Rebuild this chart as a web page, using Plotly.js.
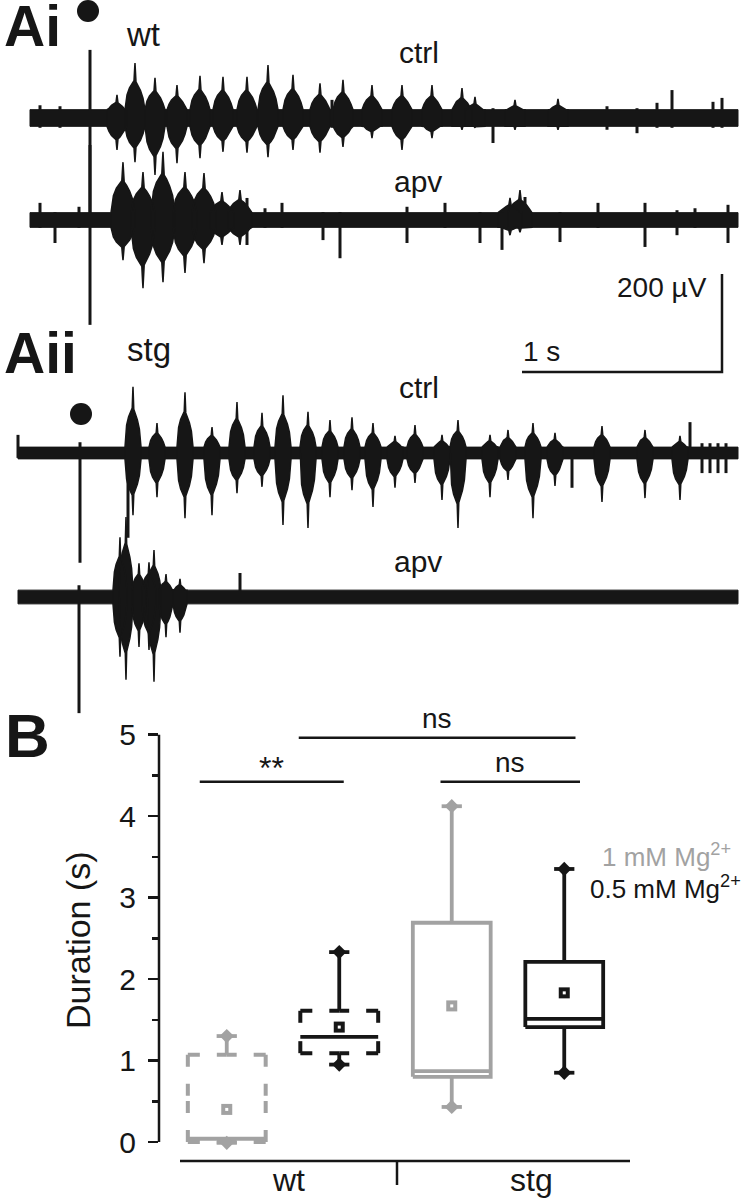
<!DOCTYPE html>
<html><head><meta charset="utf-8">
<script src="https://cdn.plot.ly/plotly-3.0.1.min.js"></script>
<style>html,body{margin:0;padding:0;background:#fff}#chart{width:754px;height:1199px}</style>
</head><body><div id="chart"></div>
<script>
// ================= DATA =================
// Field-potential traces: burst times (s), upward / downward extents (µV)
const wtCtrlBurstT    = [0.435,0.525,0.625,0.735,0.85,0.965,1.085,1.19,1.315,1.45,1.565,1.71,1.86,2.01,2.16,2.225,2.425,2.64];
const wtCtrlBurstUp   = [47,112,82,67,86,84,84,108,88,71,78,67,67,67,61,43,37,39];
const wtCtrlBurstDown = [65,90,116,92,82,69,71,80,65,71,59,41,65,41,24,20,24,24];
const wtCtrlSpikeT    = [0.30,0.05,0.15,1.51,2.315,2.885,3.035,3.135,3.21,3.415,3.46];
const wtCtrlSpikeUp   = [139,26,24,37,20,24,20,31,57,33,41];
const wtCtrlSpikeDown = [208,20,20,20,51,24,31,20,20,20,20];

const wtApvBurstT     = [0.465,0.565,0.665,0.775,0.87,0.96,1.05,2.40,2.45];
const wtApvBurstUp    = [118,98,139,98,96,57,61,45,61];
const wtApvBurstDown  = [82,139,127,108,88,51,51,31,25];
const wtApvSpikeT     = [0.30,0.05,0.125,0.245,1.085,1.175,1.26,1.465,1.55,1.885,2.075,2.25,2.36,2.475,2.65,2.84,3.075,3.235,3.325,3.49];
const wtApvSpikeUp    = [153,35,16,27,45,24,35,16,16,27,35,16,16,47,16,35,35,20,24,31];
const wtApvSpikeDown  = [214,16,47,16,51,16,16,41,78,47,16,47,61,16,45,16,55,31,16,47];

const stgCtrlBurstT    = [0.515,0.635,0.775,0.91,1.035,1.16,1.265,1.39,1.50,1.61,1.715,1.825,1.925,2.06,2.14,2.30,2.39,2.515,2.625,2.86,3.075,3.25];
const stgCtrlBurstUp   = [135,61,124,53,104,82,118,84,67,73,61,35,57,37,67,37,47,61,41,55,47,35];
const stgCtrlBurstDown = [127,90,133,127,82,69,147,153,90,76,110,71,61,96,153,90,55,133,67,100,92,96];
const stgCtrlSpikeT    = [-0.06,0.25,0.49,2.71,3.30,3.36,3.40,3.44,3.48];
const stgCtrlSpikeUp   = [37,22,10,10,63,20,20,20,20];
const stgCtrlSpikeDown = [10,224,173,71,10,41,41,41,41];

const stgApvBurstT     = [0.45,0.48,0.545,0.595,0.62,0.68,0.75];
const stgApvBurstUp    = [122,163,69,71,96,47,37];
const stgApvBurstDown  = [122,169,102,108,173,82,73];
const stgApvSpikeT     = [0.245,1.05];
const stgApvSpikeUp    = [24,49];
const stgApvSpikeDown  = [237,10];

// Box plot (Duration, s)
const genotypes   = ['wt','stg'];
const conditions  = ['1 mM Mg<sup>2+</sup>','0.5 mM Mg<sup>2+</sup>'];
const boxMin      = [-0.01,0.95,0.43,0.85];
const boxQ1       = [0.00,1.09,0.80,1.41];
const boxMedian   = [0.04,1.29,0.87,1.51];
const boxQ3       = [1.07,1.61,2.69,2.21];
const boxMax      = [1.30,2.33,4.12,3.35];
const boxMean     = [0.40,1.41,1.67,1.83];

// Significance brackets
const sigFrom  = [-0.37,0.07,0.70];
const sigTo    = [0.27,1.30,1.32];
const sigLevel = [4.42,4.96,4.42];
const sigLabel = ['**','ns','ns'];

// ================= LAYOUT HELPERS =================
const W = 754, H = 1199;
const FONT = 'Liberation Sans, Arial, sans-serif';
const INK = '#161616', GREY = '#a2a2a2';
const T_PX0 = 30, PX_PER_S = 200, PX_PER_UV = 0.49;
const pxX = v => v / W, pxY = v => 1 - v / H;
const baseUV = p => (H - p) / PX_PER_UV;

const data = [];

function addTrace(basePx, t0, t1, noise, halfW, bT, bU, bD, sT, sU, sD) {
  const B = baseUV(basePx);
  data.push({x:[t0,t1,t1,t0,t0], y:[B+noise,B+noise,B-noise,B-noise,B+noise],
    mode:'lines', fill:'toself', fillcolor:INK, line:{color:INK,width:1},
    xaxis:'x', yaxis:'y', hoverinfo:'skip', showlegend:false});
  // burst glyph: blocky body with a sharp central peak
  const U = [-1,-0.8,-0.55,-0.3,-0.1,-0.03,0,0.03,0.1,0.3,0.55,0.8,1];
  const F = [0,0.42,0.55,0.62,0.68,0.92,1,0.9,0.66,0.6,0.5,0.36,0];
  const xs = [], ys = [];
  bT.forEach((t,i) => {
    for (let k=0;k<U.length;k++){ xs.push(t+U[k]*halfW); ys.push(B+Math.max(noise,F[k]*bU[i])); }
    for (let k=U.length-1;k>=0;k--){ xs.push(t+U[k]*halfW); ys.push(B-Math.max(noise,F[k]*bD[i])); }
    xs.push(t-halfW); ys.push(B+noise);
    xs.push(null); ys.push(null);
  });
  data.push({x:xs, y:ys, mode:'lines', fill:'toself', fillcolor:INK, line:{color:INK,width:1.5},
    xaxis:'x', yaxis:'y', hoverinfo:'skip', showlegend:false, connectgaps:false});
  const sx = [], sy = [];
  sT.forEach((t,i) => { sx.push(t,t,null); sy.push(B+sU[i], B-sD[i], null); });
  data.push({x:sx, y:sy, mode:'lines', line:{color:INK,width:3},
    xaxis:'x', yaxis:'y', hoverinfo:'skip', showlegend:false});
}

addTrace(118, 0.00, 3.54, 17, 0.05, wtCtrlBurstT, wtCtrlBurstUp, wtCtrlBurstDown, wtCtrlSpikeT, wtCtrlSpikeUp, wtCtrlSpikeDown);
addTrace(220, 0.00, 3.54, 15, 0.06, wtApvBurstT, wtApvBurstUp, wtApvBurstDown, wtApvSpikeT, wtApvSpikeUp, wtApvSpikeDown);
addTrace(453, -0.06, 3.54, 12, 0.04, stgCtrlBurstT, stgCtrlBurstUp, stgCtrlBurstDown, stgCtrlSpikeT, stgCtrlSpikeUp, stgCtrlSpikeDown);
addTrace(597, -0.06, 3.54, 14, 0.035, stgApvBurstT, stgApvBurstUp, stgApvBurstDown, stgApvSpikeT, stgApvSpikeUp, stgApvSpikeDown);

// scale bar (1 s, 200 µV) in trace units
const sbT = 3.46, sbV = baseUV(372);
data.push({x:[sbT-1, sbT, sbT], y:[sbV, sbV, sbV+200], mode:'lines', line:{color:INK,width:2.5},
  xaxis:'x', yaxis:'y', hoverinfo:'skip', showlegend:false});

// ---- Box plot ----
const HW = 0.173, CAP = 0.045;
boxQ1.forEach((q1,i) => {
  const g = i < 2 ? 0 : 1;
  const xc = g + (i % 2 === 0 ? -0.25 : 0.25);
  const col = i % 2 === 0 ? GREY : INK;
  const dashed = g === 0;
  const x0 = xc-HW, x1 = xc+HW, q3 = boxQ3[i];
  if (dashed) {
    const ex=[], ey=[];
    const edges = [[x0,q3,x1,q3],[x0,q1,x1,q1],[x0,q1,x0,q3],[x1,q1,x1,q3]];
    edges.forEach(([ax,ay,bx,by]) => {
      const mx=(ax+bx)/2, my=(ay+by)/2;
      ex.push(ax,mx,null,bx,mx,null); ey.push(ay,my,null,by,my,null);
    });
    data.push({x:ex, y:ey, mode:'lines', line:{color:col,width:4,dash:'12px,17px'},
      xaxis:'x2', yaxis:'y2', hoverinfo:'skip', showlegend:false});
  } else {
    data.push({x:[x0,x1,x1,x0,x0], y:[q1,q1,q3,q3,q1], mode:'lines', line:{color:col,width:3.8},
      xaxis:'x2', yaxis:'y2', hoverinfo:'skip', showlegend:false});
  }
  data.push({x:[x0,x1,null,xc,xc,null,xc,xc,null,xc-CAP,xc+CAP,null,xc-CAP,xc+CAP],
    y:[boxMedian[i],boxMedian[i],null,q3,boxMax[i],null,q1,boxMin[i],null,boxMax[i],boxMax[i],null,boxMin[i],boxMin[i]],
    mode:'lines', line:{color:col,width:3.8}, xaxis:'x2', yaxis:'y2', hoverinfo:'skip', showlegend:false});
  data.push({x:[xc,xc], y:[boxMax[i],boxMin[i]], mode:'markers',
    marker:{symbol:'diamond',size:11,color:col}, xaxis:'x2', yaxis:'y2', hoverinfo:'skip', showlegend:false});
  data.push({x:[xc], y:[boxMean[i]], mode:'markers',
    marker:{symbol:'square',size:11,color:col}, xaxis:'x2', yaxis:'y2', hoverinfo:'skip', showlegend:false});
  data.push({x:[xc], y:[boxMean[i]], mode:'markers',
    marker:{symbol:'square',size:3,color:'#fff'}, xaxis:'x2', yaxis:'y2', hoverinfo:'skip', showlegend:false});
});

sigFrom.forEach((a,i) => {
  data.push({x:[a,sigTo[i]], y:[sigLevel[i],sigLevel[i]], mode:'lines', line:{color:INK,width:2.5},
    xaxis:'x2', yaxis:'y2', hoverinfo:'skip', showlegend:false});
});

// ================= LAYOUT =================
const ann = [];
function txt(t, x, y, size, opts={}) {
  ann.push(Object.assign({text:t, x:pxX(x), y:pxY(y), xref:'paper', yref:'paper', showarrow:false,
    xanchor:'center', yanchor:'middle', font:{family:FONT,size:size,color:INK}}, opts));
}
const bold = s => ({xanchor:'left', font:{family:FONT,size:s,color:INK,weight:'bold'}});
txt('Ai', 2, 26, 57, bold(57));
txt('wt', 143, 34, 33);
txt('ctrl', 419, 52, 30);
txt('apv', 418, 181, 30);
txt('200 µV', 662, 287, 28);
txt('1 s', 541, 351, 28);
txt('Aii', 2, 353, 57, bold(57));
txt('stg', 149, 349, 33);
txt('ctrl', 419, 387, 30);
txt('apv', 418, 561, 30);
txt('B', 3, 735, 62, bold(62));
txt('Duration (s)', 78, 940, 34, {textangle:-90});
txt(conditions[0], 600, 855, 26, {xanchor:'left', font:{family:FONT,size:26,color:GREY}});
txt(conditions[1], 588, 888, 26, {xanchor:'left'});
txt(genotypes[0], 288, 1180, 32);
txt(genotypes[1], 531, 1180, 32);
sigLabel.forEach((s,i) => {
  ann.push({text:s, x:(sigFrom[i]+sigTo[i])/2, y:sigLevel[i], xref:'x2', yref:'y2', showarrow:false,
    xanchor:'center', yanchor:'bottom', yshift:(s==='**'?-6:2), font:{family:FONT,size:(s==='**'?32:28),color:INK}});
});

const shapes = [
  {type:'circle', xref:'paper', yref:'paper', x0:pxX(77), x1:pxX(99), y0:pxY(22), y1:pxY(0), fillcolor:INK, line:{width:0}},
  {type:'circle', xref:'paper', yref:'paper', x0:pxX(70), x1:pxX(92), y0:pxY(425), y1:pxY(403), fillcolor:INK, line:{width:0}},
  {type:'line', xref:'paper', yref:'y2', x0:pxX(159), x1:pxX(159), y0:0, y1:5, line:{color:INK,width:2.5}},
  {type:'line', xref:'paper', yref:'paper', x0:pxX(180), x1:pxX(630), y0:pxY(1161), y1:pxY(1161), line:{color:INK,width:2.5}},
  {type:'line', xref:'paper', yref:'paper', x0:pxX(397), x1:pxX(397), y0:pxY(1161), y1:pxY(1185), line:{color:INK,width:2.5}},
];

const layout = {
  width:W, height:H, margin:{l:0,r:0,t:0,b:0}, paper_bgcolor:'#fff', plot_bgcolor:'rgba(0,0,0,0)',
  showlegend:false,
  xaxis:{domain:[0,1], range:[-T_PX0/PX_PER_S, (W-T_PX0)/PX_PER_S], visible:false, fixedrange:true},
  yaxis:{domain:[0,1], range:[0, H/PX_PER_UV], visible:false, fixedrange:true},
  xaxis2:{domain:[pxX(159), pxX(640)], range:[(159-283)/225, (640-283)/225], visible:false, anchor:'y2', fixedrange:true},
  yaxis2:{domain:[pxY(1161), pxY(734.5)], range:[-0.233, 5.0], anchor:'x2', showline:false, showgrid:false, zeroline:false,
    ticks:'outside', ticklen:10, tickwidth:2.5, tickcolor:INK, tickvals:[0,1,2,3,4,5], ticklabelstandoff:6,
    tickfont:{family:FONT,size:30,color:INK},
    minor:{ticks:'outside', dtick:0.5, ticklen:6, tickwidth:2.5, tickcolor:INK, showgrid:false}, fixedrange:true},
  annotations:ann, shapes:shapes
};

Plotly.newPlot('chart', data, layout, {staticPlot:true, displayModeBar:false});
</script></body></html>
